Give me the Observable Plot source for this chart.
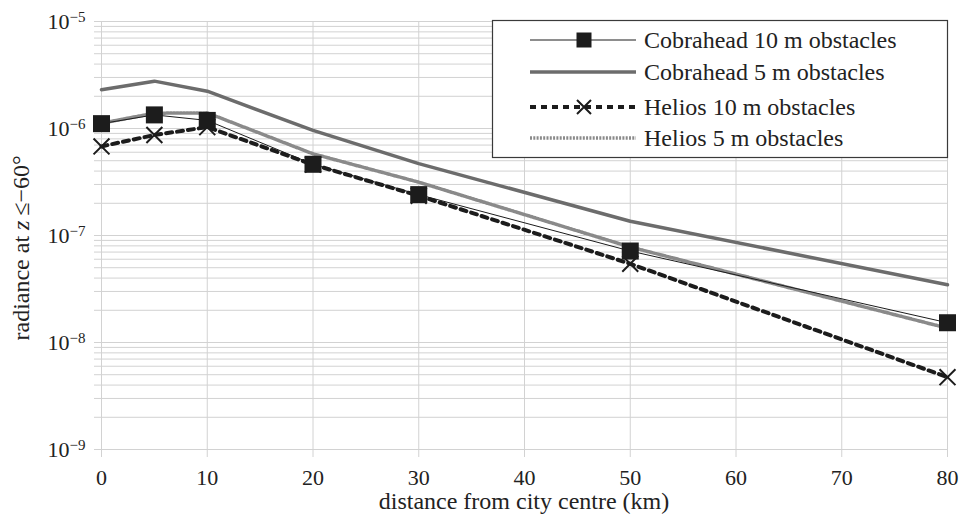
<!DOCTYPE html>
<html><head><meta charset="utf-8">
<script src="https://cdn.jsdelivr.net/npm/d3@7"></script>
<script src="https://cdn.jsdelivr.net/npm/@observablehq/plot@0.6"></script>
<style>
body{margin:0;background:#fff;}
#chart{position:relative;width:960px;height:520px;}
#chart svg text{font-family:"Liberation Serif","Times New Roman",serif;}
</style>
</head><body><div id="chart"></div>
<script>
// ---- data ----
const distances   = [0, 5, 10, 20, 30, 50, 80];
const cobrahead10 = [1.11e-6, 1.34e-6, 1.19e-6, 4.63e-7, 2.41e-7, 7.16e-8, 1.53e-8];
const cobrahead5  = [2.30e-6, 2.77e-6, 2.23e-6, 9.6e-7, 4.7e-7, 1.36e-7, 3.46e-8];
const helios10    = [6.8e-7, 8.7e-7, 1.03e-6, 4.6e-7, 2.35e-7, 5.44e-8, 4.74e-9];
const helios5     = [1.12e-6, 1.39e-6, 1.40e-6, 5.8e-7, 3.15e-7, 7.8e-8, 1.36e-8];
const seriesNames = ["Cobrahead 10 m obstacles", "Cobrahead 5 m obstacles", "Helios 10 m obstacles", "Helios 5 m obstacles"];
const xTicks      = [0, 10, 20, 30, 40, 50, 60, 70, 80];
const yExponents  = [-9, -8, -7, -6, -5];
const xLabel      = "distance from city centre (km)";

// ---- derived tables ----
const toRows = vals => distances.map((d, i) => ({distance: d, value: vals[i]}));
const rowsC10 = toRows(cobrahead10), rowsC5 = toRows(cobrahead5);
const rowsH10 = toRows(helios10), rowsH5 = toRows(helios5);
const yTicks = [];
yExponents.forEach((e, i) => {
  if (i < yExponents.length - 1) for (let m = 1; m <= 9; m++) yTicks.push(+(m + "e" + e));
  else yTicks.push(+("1e" + e));
});
const isDecade = v => Math.abs(Math.log10(v) - Math.round(Math.log10(v))) < 1e-9;

const font = '"Liberation Serif","Times New Roman",serif';
const ink = "#222";
const grid = "#d2d2d2";
const black = "#1c1c1c";
const gray = "#6c6c6c";
const lightGray = "#8a8a8a";
const dotted = "2,1.3";
const dashed = "6,5";

const chart = Plot.plot({
  width: 960, height: 520,
  marginLeft: 101, marginRight: 13, marginTop: 21, marginBottom: 71,
  style: {fontFamily: font, fontSize: "22px", color: ink, background: "#fff"},
  x: {domain: [0, 80]},
  y: {type: "log", domain: [1e-9, 1e-5]},
  marks: [
    Plot.gridY(yTicks, {stroke: grid, strokeOpacity: 1}),
    Plot.gridX(xTicks, {stroke: grid, strokeOpacity: 1}),
    Plot.axisY(yTicks, {tickSize: 7, tickPadding: 9, stroke: grid, strokeOpacity: 1, fill: ink, fontSize: 22,
      tickFormat: v => isDecade(v) ? "10|" + String(Math.round(Math.log10(v))).replace("-", "\u2212") : "",
      label: null}),
    Plot.axisX(xTicks, {tickSize: 8, tickPadding: 12, stroke: grid, strokeOpacity: 1, fill: ink, fontSize: 22, label: null}),
    Plot.line(rowsC5, {x: "distance", y: "value", stroke: gray, strokeWidth: 3.5}),
    Plot.line(rowsH5, {x: "distance", y: "value", stroke: lightGray, strokeWidth: 3.5, strokeDasharray: dotted}),
    Plot.line(rowsC10, {x: "distance", y: "value", stroke: black, strokeWidth: 1}),
    Plot.line(rowsH10, {x: "distance", y: "value", stroke: black, strokeWidth: 4, strokeDasharray: dashed}),
    Plot.dot(rowsH10, {x: "distance", y: "value", symbol: "times", r: 7.3, stroke: black, strokeWidth: 2}),
    Plot.dot(rowsC10, {x: "distance", y: "value", symbol: "square", r: 9.6, fill: black, stroke: "none"})
  ]
});
document.getElementById("chart").appendChild(chart);

const svg = d3.select(chart);
// superscript exponents on y tick labels
svg.selectAll('g[aria-label="y-axis tick label"] text').each(function() {
  const t = d3.select(this);
  const s = t.text();
  if (!s.includes("|")) return;
  const [base, exp] = s.split("|");
  t.text(base);
  t.append("tspan").attr("dy", "-0.42em").attr("font-size", "15px").text(exp);
});

// axis titles
svg.append("text")
  .attr("x", 524).attr("y", 509)
  .attr("text-anchor", "middle")
  .attr("font-size", 24).attr("fill", ink)
  .text(xLabel);
const yl = svg.append("text")
  .attr("transform", "translate(21,248) rotate(-90)")
  .attr("text-anchor", "middle").attr("dy", "0.35em")
  .attr("font-size", 24).attr("fill", ink);
yl.append("tspan").text("radiance at ");
yl.append("tspan").attr("font-style", "italic").text("z");
yl.append("tspan").text("\u2009\u2264\u221260\u00b0");

// legend
const lg = svg.append("g").attr("text-anchor", "start");
lg.append("rect").attr("x", 492.5).attr("y", 20.5).attr("width", 455).attr("height", 137)
  .attr("fill", "#fff").attr("stroke", "#3a3a3a").attr("stroke-width", 1.2);
const rowsY = [40, 72, 107, 138];
const styles = [
  {stroke: black, w: 1, dash: null},
  {stroke: gray, w: 3.5, dash: null},
  {stroke: black, w: 4, dash: dashed},
  {stroke: lightGray, w: 3.5, dash: dotted}
];
seriesNames.forEach((name, i) => {
  const y = rowsY[i], s = styles[i];
  const ln = lg.append("line").attr("x1", 530).attr("x2", 636).attr("y1", y).attr("y2", y)
    .attr("stroke", s.stroke).attr("stroke-width", s.w);
  if (s.dash) ln.attr("stroke-dasharray", s.dash);
  if (i === 0) lg.append("rect").attr("x", 584 - 7.5).attr("y", y - 7.5).attr("width", 15).attr("height", 15).attr("fill", black);
  if (i === 2) lg.append("path").attr("d", `M${584-7},${y-7}L${584+7},${y+7}M${584-7},${y+7}L${584+7},${y-7}`)
    .attr("stroke", black).attr("stroke-width", 2).attr("fill", "none");
  lg.append("text").attr("x", 644).attr("y", y).attr("dy", "0.35em")
    .attr("text-anchor", "start")
    .attr("font-size", 24).attr("fill", ink).text(name);
});
</script>
</body></html>
